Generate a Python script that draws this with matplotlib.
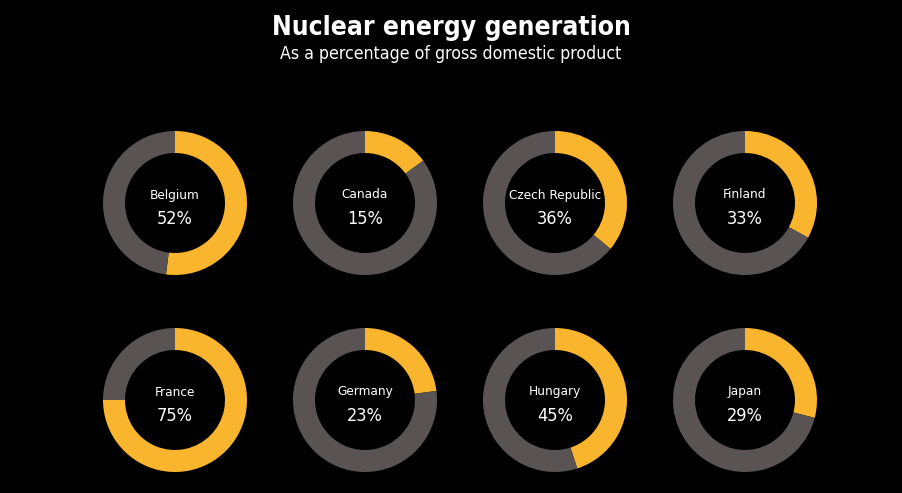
import matplotlib.pyplot as plt

countries = ['Belgium', 'Canada', 'Czech Republic', 'Finland',
             'France', 'Germany', 'Hungary', 'Japan']
shares = [52, 15, 36, 33, 75, 23, 45, 29]

W, H = 902, 493
fig = plt.figure(figsize=(W / 100, H / 100), dpi=100, facecolor='black')
ax = fig.add_axes([0, 0, 1, 1])
ax.set_facecolor('black')

font = 'DejaVu Sans'
ax.text(W / 2, 28, 'Nuclear energy generation', color='white', fontsize=19,
        fontweight='bold', ha='center', va='center', family=font,
        fontstretch='condensed')
ax.text(W / 2, 54, 'As a percentage of gross domestic product', color='white',
        fontsize=12.7, ha='center', va='center', family=font,
        fontstretch='condensed')

for i, (name, val) in enumerate(zip(countries, shares)):
    cx = 175 + 190 * (i % 4)
    cy = 203 + 197 * (i // 4)
    # y axis is inverted, so counterclock=True draws clockwise on screen
    ax.pie([val, 100 - val], center=(cx, cy), radius=72, startangle=-90,
           counterclock=True, colors=['#F9B52D', '#595453'],
           wedgeprops=dict(width=22, linewidth=0), frame=True)
    ax.text(cx, cy - 8, name, color='white', fontsize=9.7, ha='center',
            va='center', family=font, fontstretch='condensed')
    ax.text(cx, cy + 16, f'{val}%', color='white', fontsize=13, ha='center',
            va='center', family=font, fontstretch='condensed')

ax.set_xlim(0, W)
ax.set_ylim(H, 0)
ax.set_aspect('equal')
ax.axis('off')
fig.savefig('out.png', dpi=100, facecolor='black')
